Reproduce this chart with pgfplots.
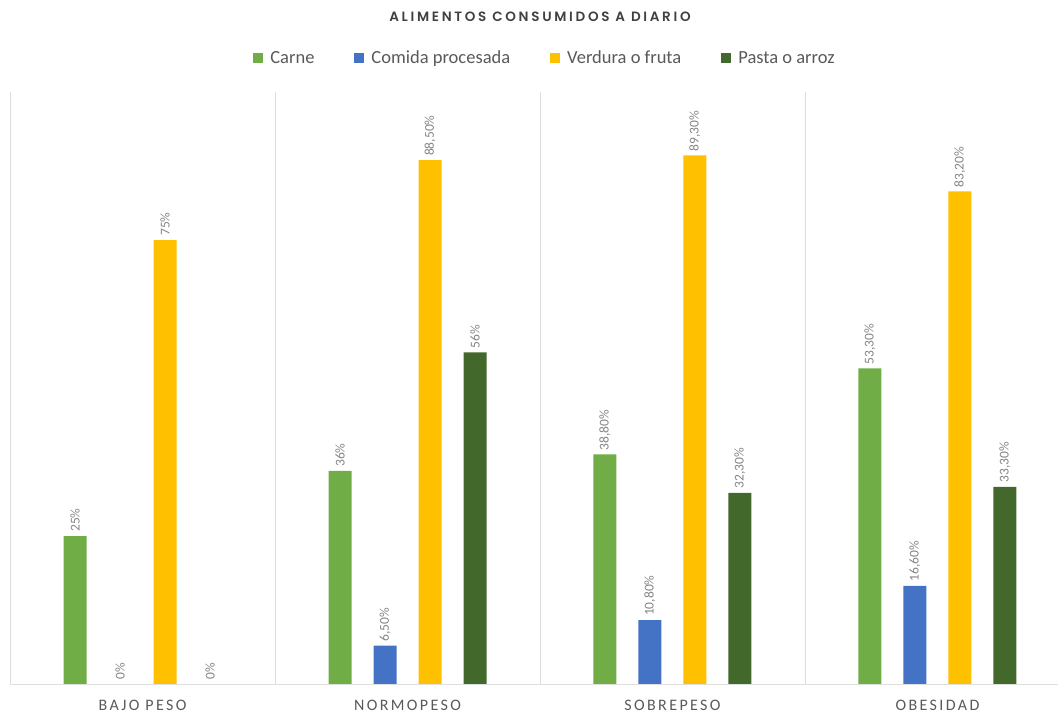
\documentclass[border=0pt]{standalone}
\usepackage{pgfplots}
\pgfplotsset{compat=1.18}
\usepackage{fontspec}
\setmainfont{Carlito}
\newfontfamily\titlefont[LetterSpace=20]{Poppins SemiBold}
\newfontfamily\catfont[LetterSpace=15]{Carlito}
\definecolor{cCarne}{HTML}{70AD47}
\definecolor{cProc}{HTML}{4472C4}
\definecolor{cVerd}{HTML}{FFC000}
\definecolor{cPasta}{HTML}{43682B}
\definecolor{lbl}{HTML}{858585}
\definecolor{cat}{HTML}{595959}
\begin{document}
\begin{tikzpicture}
\begin{axis}[
  name=ax,
  scale only axis,
  width=1058pt, height=592pt,
  xmin=-0.538, xmax=3.455,
  ymin=0, ymax=100,
  ybar=22pt, bar width=23pt,
  axis line style={draw=none},
  ytick=\empty,
  xtick={0,1,2,3},
  xticklabels={BAJO PESO,NORMOPESO,SOBREPESO,OBESIDAD},
  xtick style={draw=none},
  xticklabel style={font=\catfont\fontsize{16}{16}\selectfont, text=cat, yshift=-8pt},
  extra x ticks={-0.5,0.5,1.5,2.5},
  extra x tick labels={},
  extra x tick style={grid=major, tick style={draw=none}},
  major grid style={draw=black!13, line width=0.8pt},
  nodes near coords,
  point meta=explicit symbolic,
  every node near coord/.append style={rotate=90, anchor=west, font=\fontsize{13.5}{13.5}\selectfont, text=lbl, inner xsep=4pt},
  legend style={at={(0.5,1)}, anchor=center, xshift=16pt, yshift=34pt, draw=none, fill=none,
    legend columns=-1, font=\fontsize{18.5}{19}\selectfont, text=cat,
    /tikz/every odd column/.append style={column sep=5pt},
    /tikz/every even column/.append style={column sep=38pt}},
  legend image code/.code={\fill[#1] (0pt,-5pt) rectangle (10pt,5pt);},
]
\addplot[fill=cCarne, draw=none] coordinates {(0,25) [25\%] (1,36) [36\%] (2,38.8) [38,80\%] (3,53.3) [53,30\%]};
\addplot[fill=cProc, draw=none] coordinates {(0,0) [0\%] (1,6.5) [6,50\%] (2,10.8) [10,80\%] (3,16.6) [16,60\%]};
\addplot[fill=cVerd, draw=none] coordinates {(0,75) [75\%] (1,88.5) [88,50\%] (2,89.3) [89,30\%] (3,83.2) [83,20\%]};
\addplot[fill=cPasta, draw=none] coordinates {(0,0) [0\%] (1,56) [56\%] (2,32.3) [32,30\%] (3,33.3) [33,30\%]};
\legend{Carne,Comida procesada,Verdura o fruta,Pasta o arroz}
\draw[black!13, line width=0.8pt] (axis cs:-0.5,0) -- (axis cs:3.6,0);
\end{axis}
\node[font=\titlefont\fontsize{13.5}{14}\selectfont, text=black!75] at ([yshift=75pt,xshift=11pt]ax.north) {ALIMENTOS CONSUMIDOS A DIARIO};
\pgfresetboundingbox
\path (ax.south west) ++(0,-34pt) rectangle ([yshift=92pt]ax.north east);
\end{tikzpicture}
\end{document}
